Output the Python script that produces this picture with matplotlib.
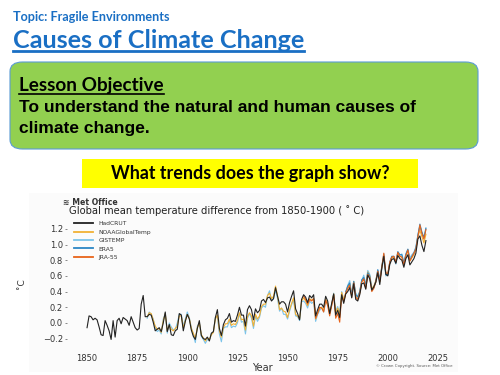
import matplotlib
matplotlib.use("Agg")
import numpy as np
import matplotlib.pyplot as plt
from matplotlib.patches import FancyBboxPatch, Rectangle
from matplotlib.lines import Line2D

# ---- data (anomaly vs 1850-1900 in deg C) ----
hadcrut_start = 1850
hadcrut = [
    -0.06, 0.09, 0.08, 0.04, 0.06, 0.04, -0.05, -0.15, -0.16, 0.03,
    -0.03, -0.10, -0.21, 0.03, -0.18, 0.03, 0.06, -0.01, 0.07, 0.05,
    0.03, -0.03, 0.08, 0.01, -0.06, -0.09, -0.07, 0.24, 0.35, 0.08,
    0.08, 0.11, 0.10, 0.01, -0.10, -0.08, -0.06, -0.11, 0.00, 0.14,
    -0.11, -0.02, -0.15, -0.16, -0.10, -0.08, 0.12, 0.10, -0.10, 0.02,
    0.11, 0.05, -0.09, -0.17, -0.21, -0.07, 0.03, -0.16, -0.20, -0.21,
    -0.18, -0.23, -0.13, -0.11, 0.07, 0.17, -0.07, -0.16, -0.02, 0.04,
    0.06, 0.12, 0.01, 0.03, 0.02, 0.10, 0.20, 0.10, 0.10, -0.04,
    0.17, 0.22, 0.17, 0.04, 0.18, 0.13, 0.16, 0.28, 0.30, 0.26,
    0.32, 0.33, 0.28, 0.31, 0.45, 0.34, 0.24, 0.27, 0.27, 0.24,
    0.14, 0.26, 0.34, 0.41, 0.18, 0.12, 0.04, 0.30, 0.36, 0.33,
    0.26, 0.35, 0.32, 0.36, 0.09, 0.17, 0.24, 0.24, 0.20, 0.34,
    0.28, 0.12, 0.25, 0.37, 0.10, 0.16, 0.07, 0.36, 0.25, 0.37,
    0.40, 0.45, 0.32, 0.50, 0.30, 0.28, 0.36, 0.50, 0.51, 0.43,
    0.61, 0.56, 0.42, 0.46, 0.52, 0.64, 0.49, 0.70, 0.85, 0.62,
    0.60, 0.75, 0.81, 0.82, 0.76, 0.86, 0.82, 0.80, 0.71, 0.82,
    0.87, 0.74, 0.78, 0.82, 0.89, 1.07, 1.11, 0.99, 0.91, 1.05,
]

noaa_start = 1880
noaa = [
    0.08, 0.13, 0.12, 0.04, -0.04, -0.08, -0.07, -0.12, 0.03, 0.12,
    -0.10, -0.03, -0.08, -0.10, -0.07, -0.04, 0.09, 0.09, -0.06, 0.03,
    0.11, 0.06, -0.07, -0.13, -0.20, -0.06, 0.00, -0.15, -0.19, -0.23,
    -0.19, -0.21, -0.15, -0.12, 0.05, 0.10, -0.10, -0.18, -0.06, -0.01,
    -0.01, 0.05, -0.03, -0.01, -0.02, 0.03, 0.13, 0.04, 0.05, -0.09,
    0.08, 0.13, 0.09, -0.04, 0.11, 0.05, 0.09, 0.21, 0.24, 0.24,
    0.35, 0.38, 0.31, 0.34, 0.47, 0.35, 0.17, 0.19, 0.15, 0.14,
    0.07, 0.17, 0.25, 0.32, 0.11, 0.09, 0.05, 0.28, 0.32, 0.28,
    0.22, 0.31, 0.29, 0.31, 0.05, 0.13, 0.19, 0.20, 0.16, 0.30,
    0.25, 0.13, 0.23, 0.37, 0.13, 0.19, 0.10, 0.39, 0.29, 0.38,
    0.46, 0.50, 0.36, 0.53, 0.35, 0.33, 0.39, 0.53, 0.57, 0.47,
    0.65, 0.60, 0.44, 0.47, 0.54, 0.66, 0.53, 0.72, 0.86, 0.63,
    0.62, 0.77, 0.83, 0.84, 0.78, 0.89, 0.85, 0.84, 0.75, 0.86,
    0.92, 0.79, 0.83, 0.87, 0.94, 1.10, 1.18, 1.10, 1.02, 1.13,
]

gistemp_start = 1880
gistemp = [
    0.06, 0.14, 0.11, 0.05, -0.06, -0.11, -0.09, -0.14, 0.05, 0.12,
    -0.13, 0.00, -0.05, -0.09, -0.08, 0.00, 0.11, 0.11, -0.04, 0.05,
    0.14, 0.07, -0.06, -0.15, -0.25, -0.04, 0.00, -0.17, -0.21, -0.26,
    -0.21, -0.22, -0.14, -0.12, 0.07, 0.08, -0.14, -0.24, -0.07, -0.05,
    -0.05, 0.03, -0.06, -0.04, -0.05, 0.00, 0.12, 0.01, 0.02, -0.14,
    0.06, 0.12, 0.06, -0.07, 0.09, 0.02, 0.07, 0.19, 0.22, 0.20,
    0.35, 0.41, 0.29, 0.31, 0.42, 0.31, 0.15, 0.19, 0.11, 0.11,
    0.05, 0.15, 0.23, 0.30, 0.09, 0.08, 0.03, 0.27, 0.28, 0.25,
    0.19, 0.28, 0.25, 0.27, 0.02, 0.11, 0.16, 0.20, 0.14, 0.27,
    0.25, 0.14, 0.23, 0.38, 0.15, 0.21, 0.12, 0.40, 0.29, 0.38,
    0.48, 0.54, 0.36, 0.53, 0.38, 0.34, 0.40, 0.54, 0.61, 0.49,
    0.67, 0.62, 0.44, 0.45, 0.53, 0.67, 0.55, 0.68, 0.83, 0.60,
    0.61, 0.76, 0.85, 0.84, 0.75, 0.90, 0.86, 0.88, 0.76, 0.87,
    0.94, 0.83, 0.87, 0.90, 0.97, 1.12, 1.23, 1.14, 1.07, 1.20,
]

era5_start = 1979
era5 = [
    0.40, 0.47, 0.51, 0.36, 0.53, 0.36, 0.33, 0.40, 0.55, 0.58, 0.47,
    0.64, 0.60, 0.42, 0.45, 0.53, 0.68, 0.55, 0.72, 0.88, 0.62,
    0.62, 0.78, 0.85, 0.85, 0.77, 0.91, 0.87, 0.87, 0.76, 0.88,
    0.94, 0.80, 0.85, 0.89, 0.96, 1.12, 1.26, 1.16, 1.09, 1.21,
]

jra55_start = 1958
jra55 = [
    0.34, 0.30, 0.24, 0.30, 0.28, 0.31, 0.06, 0.12, 0.20, 0.19, 0.14, 0.29,
    0.22, 0.09, 0.22, 0.36, 0.06, 0.12, 0.01, 0.35, 0.27, 0.38,
    0.44, 0.48, 0.33, 0.51, 0.33, 0.30, 0.38, 0.52, 0.56, 0.44,
    0.62, 0.58, 0.40, 0.44, 0.52, 0.66, 0.53, 0.71, 0.89, 0.64,
    0.63, 0.78, 0.84, 0.85, 0.77, 0.90, 0.85, 0.84, 0.74, 0.86,
    0.93, 0.79, 0.84, 0.89, 0.94, 1.10, 1.25, 1.14, 1.07, 1.19,
]

yticks = [-0.2, 0.0, 0.2, 0.4, 0.6, 0.8, 1.0, 1.2]
xticks = [1850, 1875, 1900, 1925, 1950, 1975, 2000, 2025]


def years(start, vals):
    return np.arange(start, start + len(vals))


fig = plt.figure(figsize=(5, 3.75), dpi=100)
fig.patch.set_facecolor("white")

# ---- slide header ----
blue = "#1a6fc4"
fig.text(13 / 500, 1 - 17 / 375, "Topic: Fragile Environments", family="Lato",
         weight="bold", fontsize=9.1, color=blue, va="center", ha="left")
title = fig.text(13 / 500, 1 - 41 / 375, "Causes of Climate Change", family="Lato",
                 weight="bold", fontsize=18.1, color=blue, va="center", ha="left")

# green objective box
green_box = FancyBboxPatch((10 / 500, 1 - 149 / 375), 468 / 500, 87 / 375,
                           boxstyle="round,pad=0,rounding_size=0.025",
                           transform=fig.transFigure, facecolor="#92d050",
                           edgecolor="#5b9bd5", linewidth=0.8, zorder=-2)
fig.patches.append(green_box)
obj = fig.text(19 / 500, 1 - 86 / 375, "Lesson Objective", family="Lato",
               weight="bold", fontsize=13.6, color="black", va="center", ha="left")
fig.text(19 / 500, 1 - 108 / 375, "To understand the natural and human causes of",
         family="Liberation Sans", weight="bold", fontsize=12.5, color="black",
         va="center", ha="left")
fig.text(19 / 500, 1 - 129 / 375, "climate change.",
         family="Liberation Sans", weight="bold", fontsize=12.5, color="black",
         va="center", ha="left")

# yellow question box
fig.patches.append(Rectangle((82 / 500, 1 - 188 / 375), 336 / 500, 29 / 375,
                             transform=fig.transFigure, facecolor="#ffff00",
                             edgecolor="none", zorder=-2))
fig.text(250 / 500, 1 - 174 / 375, "What trends does the graph show?", family="Lato",
         weight="bold", fontsize=12.9, color="black", va="center", ha="center")

# chart panel background
fig.patches.append(Rectangle((29 / 500, 1 - 372 / 375), 429 / 500, 179 / 375,
                             transform=fig.transFigure, facecolor="#fbfbfb",
                             edgecolor="none", zorder=-2))

# ---- chart ----
ax = fig.add_axes([67 / 500, 0.0739, 0.782, 0.341])
ax.set_facecolor("none")

colors = {
    "HadCRUT": "#222222",
    "NOAAGlobalTemp": "#f2b134",
    "GISTEMP": "#7cc4ea",
    "ERA5": "#2b86c5",
    "JRA-55": "#e8641a",
}
lw = 0.8
ax.plot(years(gistemp_start, gistemp), gistemp, color=colors["GISTEMP"], lw=lw)
ax.plot(years(noaa_start, noaa), noaa, color=colors["NOAAGlobalTemp"], lw=lw)
ax.plot(years(era5_start, era5), era5, color=colors["ERA5"], lw=lw)
ax.plot(years(jra55_start, jra55), jra55, color=colors["JRA-55"], lw=lw)
ax.plot(years(hadcrut_start, hadcrut), hadcrut, color=colors["HadCRUT"], lw=lw)

ax.set_xlim(1840, 2035)
ax.set_ylim(-0.31, 1.32)
ax.set_xticks(xticks)
ax.set_yticks(yticks)
ax.set_yticklabels([f"{v:.1f}".replace("-", "\u2212") for v in yticks])
for s in ax.spines.values():
    s.set_visible(False)
ax.tick_params(axis="y", labelsize=6, colors="#333333", length=1.5, width=0.4,
               pad=1.5)
ax.tick_params(axis="x", labelsize=6, colors="#333333", length=0, pad=5)
ax.set_xlabel("Year", fontsize=7, color="#333333", labelpad=0)
ax.set_ylabel("\u02daC", fontsize=6.5, color="#333333", labelpad=12)

handles = [Line2D([], [], color=colors[k], lw=1.3) for k in colors]
ax.legend(handles, list(colors), loc="upper left", bbox_to_anchor=(0.005, 1.03),
          frameon=False, fontsize=4.3, handlelength=3.2, labelspacing=0.55,
          handletextpad=0.8, labelcolor="#333333")

fig.text(69 / 500, 1 - 211 / 375, "Global mean temperature difference from 1850-1900 ( \u02da C)",
         fontsize=7.2, color="#222222", va="center", ha="left")
fig.text(63 / 500, 1 - 202 / 375, "\u224b Met Office", fontsize=5.6, weight="bold",
         color="#333333", va="center", ha="left")
fig.text(452 / 500, 1 - 366 / 375, "\u00a9 Crown Copyright. Source: Met Office",
         fontsize=2.8, color="#555555", va="center", ha="right")

# underlines for the slide headings
fig.canvas.draw()
r = fig.canvas.get_renderer()
inv = fig.transFigure.inverted()
for t, off, w in [(title, 2, 2.0), (obj, 1, 1.2)]:
    bb = t.get_window_extent(r)
    (x0, y0), (x1, _) = inv.transform([[bb.x0, bb.y0 + off], [bb.x1, bb.y0]])
    fig.lines.append(Line2D([x0, x1], [y0, y0], transform=fig.transFigure,
                            color=t.get_color(), lw=w))

fig.savefig("out.png", dpi=100)
